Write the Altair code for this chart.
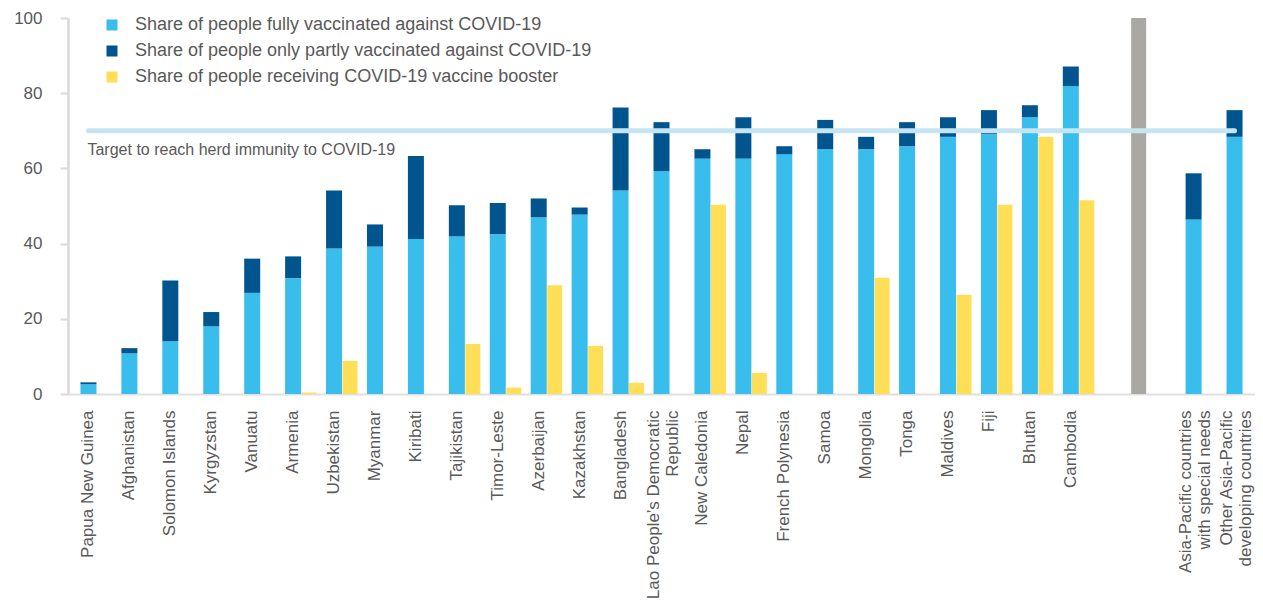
import altair as alt
import pandas as pd

# ---------------- data ----------------
countries = [
    "Papua New Guinea", "Afghanistan", "Solomon Islands", "Kyrgyzstan", "Vanuatu",
    "Armenia", "Uzbekistan", "Myanmar", "Kiribati", "Tajikistan", "Timor-Leste",
    "Azerbaijan", "Kazakhstan", "Bangladesh", "Lao People\u2019s Democratic\nRepublic",
    "New Caledonia", "Nepal", "French Polynesia", "Samoa", "Mongolia", "Tonga",
    "Maldives", "Fiji", "Bhutan", "Cambodia",
]
groups = [
    "Asia-Pacific countries\nwith special needs",
    "Other Asia-Pacific\ndeveloping countries",
]
spacers = [" ", "  "]

fully = [2.6, 10.8, 14.0, 18.0, 26.9, 30.8, 38.7, 39.2, 41.2, 41.9, 42.5, 47.0, 47.7,
         54.1, 59.3, 62.6, 62.6, 63.8, 65.1, 65.1, 65.9, 68.4, 69.1, 73.6, 81.9,
         46.4, 68.4]
partly = [0.5, 1.4, 16.2, 3.8, 9.1, 5.8, 15.4, 5.9, 22.1, 8.3, 8.3, 5.0, 1.9,
          22.1, 13.0, 2.5, 11.0, 2.1, 7.8, 3.3, 6.4, 5.2, 6.4, 3.2, 5.2,
          12.3, 7.1]
booster = [0, 0, 0, 0, 0, 0.4, 8.8, 0, 0, 13.3, 1.7, 28.9, 12.8,
           3.0, 0, 50.3, 5.6, 0, 0, 30.9, 0, 26.4, 50.3, 68.4, 51.5]

separator_value = 100
herd_target = 70
herd_label = "Target to reach herd immunity to COVID-19"

series = [
    "Share of people fully vaccinated against COVID-19",
    "Share of people only partly vaccinated against COVID-19",
    "Share of people receiving COVID-19 vaccine booster",
]
colors = ["#38bdec", "#00558f", "#ffdf57"]

# ---------------- tables ----------------
x_domain = countries + spacers + groups
bar_cats = countries + groups

stack_rows = []
for c, f, p in zip(bar_cats, fully, partly):
    stack_rows.append({"cat": c, "series": series[0], "value": f, "ord": 0})
    stack_rows.append({"cat": c, "series": series[1], "value": p, "ord": 1})
stack_df = pd.DataFrame(stack_rows)

boost_df = pd.DataFrame(
    [{"cat": c, "series": series[2], "value": b} for c, b in zip(countries, booster) if b > 0]
)
sep_df = pd.DataFrame([{"cat": spacers[1], "value": separator_value}])
line_df = pd.DataFrame([{"cat": countries[0], "cat_end": groups[-1], "value": herd_target, "label": herd_label}])

TEXT = "#595959"
FONT = "Liberation Sans"

x_scale = alt.Scale(domain=x_domain, paddingInner=0, paddingOuter=0)
x_axis = alt.Axis(
    title=None, labelAngle=-90, labelAlign="right", labelBaseline="middle",
    labelPadding=16, ticks=False, domainColor="#e0e0e0", domainWidth=2,
    labelFontSize=17, labelColor=TEXT, labelLimit=400, labelLineHeight=19.5,
    labelExpr="split(datum.label, '\\n')",
    labelOffset={"condition": {"test": "indexof(datum.label, '\\n') >= 0", "value": -8}, "value": 0},
)
x_enc = alt.X("cat:N", sort=x_domain, scale=x_scale, axis=x_axis)

y_scale = alt.Scale(domain=[0, 100], nice=False)
y_axis = alt.Axis(
    title=None, values=[0, 20, 40, 60, 80, 100], grid=False,
    domainColor="#d9d9d9", domainWidth=2.5, tickColor="#d9d9d9", tickSize=8,
    tickWidth=2, labelPadding=18, labelFontSize=17, labelColor=TEXT,
)
y_enc = alt.Y("value:Q", stack=None, scale=y_scale, axis=y_axis)

color_enc = alt.Color(
    "series:N",
    scale=alt.Scale(domain=series, range=colors),
    legend=alt.Legend(
        title=None, orient="none", legendX=35, legendY=-2, symbolType="square",
        symbolSize=121, symbolStrokeWidth=0, labelFontSize=18, labelColor=TEXT,
        labelOffset=14, rowPadding=8, padding=0, labelLimit=600,
    ),
)

stacked = alt.Chart(stack_df).mark_bar(size=16).encode(
    x=x_enc,
    y=alt.Y("value:Q", stack="zero", scale=y_scale, axis=y_axis),
    color=color_enc,
    order=alt.Order("ord:Q"),
)
boost = alt.Chart(boost_df).mark_bar(size=15, xOffset=16).encode(
    x=x_enc, y=y_enc, color=color_enc,
)
sep = alt.Chart(sep_df).mark_bar(size=15, xOffset=-14, color="#aaa8a4").encode(
    x=x_enc, y=y_enc,
)
rule = alt.Chart(line_df).mark_rule(color="#c6e5f3", strokeWidth=5, strokeCap="round").encode(
    x=x_enc, x2="cat_end:N", y=y_enc,
)
label = alt.Chart(line_df).mark_text(
    align="left", baseline="middle", dx=-1, dy=19, fontSize=16, color=TEXT, font=FONT
).encode(
    x=x_enc, y=y_enc, text="label:N",
)

chart = alt.layer(stacked, boost, sep, rule, label).properties(
    width=1187,
    height=376,
    autosize=alt.AutoSizeParams(type="none"),
    padding={"left": 60, "top": 10, "right": 0, "bottom": 206},
).configure_view(stroke=None).configure_axis(
    labelFont=FONT
).configure_legend(labelFont=FONT)

chart.save("out.html", embed_options={"renderer": "svg", "actions": False})
